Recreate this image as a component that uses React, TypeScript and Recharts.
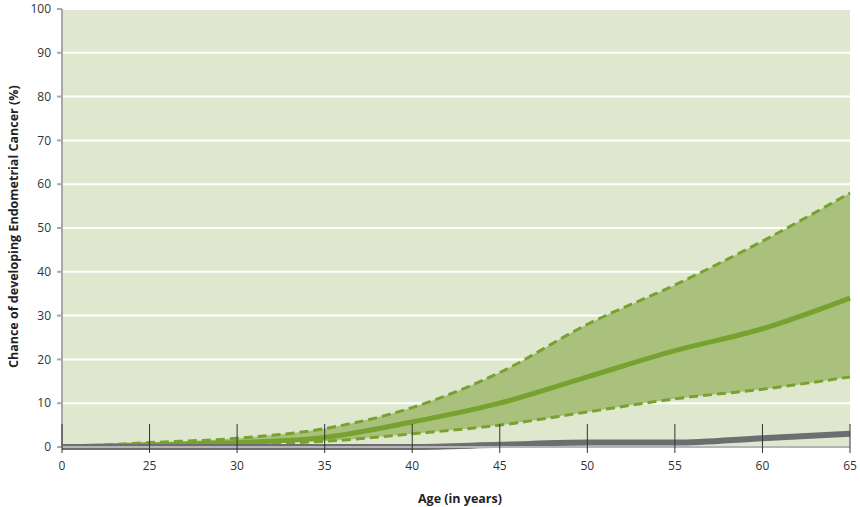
import React from 'react';
import { ComposedChart, Area, Line, XAxis, YAxis, CartesianGrid } from 'recharts';

const ages = ['0', '25', '30', '35', '40', '45', '50', '55', '60', '65'];
const meanRisk = [0, 0.5, 1, 2.2, 5.7, 10, 16, 22, 27, 34];
const upperRisk = [0, 1, 2, 4.2, 9, 17, 28, 37, 47, 58];
const lowerRisk = [0, 0.3, 0.7, 1.3, 3, 5, 8, 11, 13.2, 16];
const generalRisk = [0, 0, 0, 0, 0, 0.5, 1, 1, 2, 3];
const yTicks = [0, 10, 20, 30, 40, 50, 60, 70, 80, 90, 100];

const data = ages.map((age, i) => ({
  age,
  mean: meanRisk[i],
  upper: upperRisk[i],
  lower: lowerRisk[i],
  band: [lowerRisk[i], upperRisk[i]],
  general: generalRisk[i],
}));

const FONT = '"Open Sans", "DejaVu Sans", sans-serif';

const XTick = (props: any) => {
  const { x, y, payload } = props;
  return (
    <g>
      <line x1={x} x2={x} y1={y - 23} y2={y + 6} stroke="#333" strokeWidth={1} />
      <text x={x} y={y + 23} textAnchor="middle" fill="#333" fontSize={12} fontFamily={FONT}>
        {payload.value}
      </text>
    </g>
  );
};

export default function App() {
  return (
    <div style={{ position: 'absolute', left: 0, top: 0, width: 860, height: 507, background: '#fff' }}>
      <ComposedChart width={860} height={507} data={data} margin={{ top: 9, right: 10, left: 0, bottom: 0 }}>
        <CartesianGrid fill="#dfe8cf" stroke="#ffffff" strokeWidth={2} vertical={false} />
        <XAxis
          dataKey="age"
          height={60}
          tickSize={0}
          tickMargin={0}
          tickLine={false}
          tick={<XTick />}
          stroke="#b5b5b5"
          strokeWidth={2}
          interval={0}
          label={{ value: 'Age (in years)', position: 'insideBottom', offset: 4, dx: 4, fill: '#222', fontSize: 12.5, fontWeight: 'bold', fontFamily: FONT }}
        />
        <YAxis
          width={62}
          domain={[0, 100]}
          ticks={yTicks}
          interval={0}
          tickSize={5}
          tickMargin={6}
          stroke="#a8a8a8"
          strokeWidth={2}
          tick={{ fill: '#333', fontSize: 12, fontFamily: FONT }}
          label={{ value: 'Chance of developing Endometrial Cancer (%)', angle: -90, position: 'insideLeft', offset: 14, dy: 140, fill: '#222', fontSize: 12.5, fontWeight: 'bold', fontFamily: FONT }}
        />
        <Area type="monotone" dataKey="band" fill="#a9c17c" fillOpacity={1} stroke="none" isAnimationActive={false} />
        <Line type="monotone" dataKey="upper" stroke="#77a22f" strokeWidth={3} strokeDasharray="9 5" dot={false} isAnimationActive={false} />
        <Line type="monotone" dataKey="lower" stroke="#77a22f" strokeWidth={3} strokeDasharray="9 5" dot={false} isAnimationActive={false} />
        <Line type="monotone" dataKey="mean" stroke="#77a22f" strokeWidth={5} dot={false} isAnimationActive={false} />
        <Line type="monotone" dataKey="general" stroke="#6d6e72" strokeWidth={6} dot={false} isAnimationActive={false} />
      </ComposedChart>
    </div>
  );
}
